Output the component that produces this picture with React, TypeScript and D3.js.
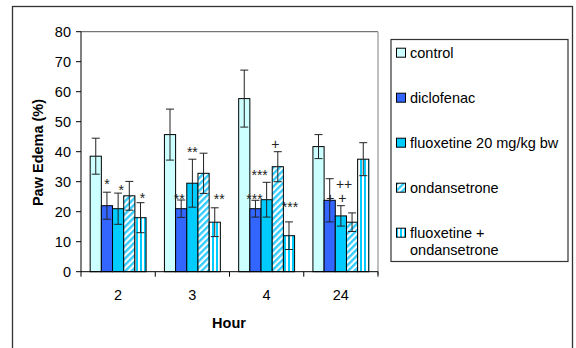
import React from 'react';
import { scaleBand, scaleLinear, range } from 'd3';

// hours after injection
const hours = ['2', '3', '4', '24'];
const seriesNames = ['control', 'diclofenac', 'fluoxetine 20 mg/kg bw', 'ondansetrone', 'fluoxetine + ondansetrone'];

// mean paw edema (%) per hour, and the error (half bar)
const control = [38.5, 45.7, 57.7, 41.7];
const controlErr = [6, 8.5, 9.5, 4];
const diclofenac = [22, 21, 21, 23.8];
const diclofenacErr = [4.5, 2.9, 2.8, 7.2];
const fluoxetine = [21, 29.5, 24, 18.6];
const fluoxetineErr = [5.2, 8, 5.8, 3.4];
const ondansetrone = [25.3, 32.8, 35, 16.5];
const ondansetroneErr = [4.8, 6.7, 5, 3.1];
const combo = [18, 16.5, 12, 37.5];
const comboErr = [5, 4.8, 4.6, 5.5];

const yTicks = [0, 10, 20, 30, 40, 50, 60, 70, 80];

// significance marks: hour, series index, label, level (value units), nudge
const marks = [
  { hour: '2', s: 1, text: '*', at: 30.2, dx: 0 },
  { hour: '2', s: 2, text: '*', at: 28.3, dx: 3 },
  { hour: '2', s: 4, text: '*', at: 25.6, dx: 2 },
  { hour: '3', s: 1, text: '**', at: 25.2, dx: -2 },
  { hour: '3', s: 2, text: '**', at: 41, dx: 0 },
  { hour: '3', s: 4, text: '**', at: 25.3, dx: 4.5 },
  { hour: '4', s: 1, text: '***', at: 25.3, dx: -1 },
  { hour: '4', s: 2, text: '***', at: 33.3, dx: -7 },
  { hour: '4', s: 3, text: '+', at: 42.6, dx: -2.5 },
  { hour: '4', s: 4, text: '***', at: 22.6, dx: 1 },
  { hour: '24', s: 3, text: '++', at: 29.2, dx: -8 },
  { hour: '24', s: 2, text: '+ +', at: 24.5, dx: -4.5 },
];

const values = [control, diclofenac, fluoxetine, ondansetrone, combo];
const errors = [controlErr, diclofenacErr, fluoxetineErr, ondansetroneErr, comboErr];
const fills = ['#CCFFFF', '#3366FF', '#00CCFF', 'url(#diag)', 'url(#vert)'];

const font = '"Liberation Sans", Arial, sans-serif';
const fs = 14.5;

export default function App() {
  const left = 81;
  const right = 378;
  const top = 31.7;
  const bottom = 271.7;

  const x = scaleBand<string>().domain(hours).range([left, right]);
  const xs = scaleBand<number>()
    .domain(range(5))
    .range([0, x.bandwidth()])
    .paddingInner(0)
    .paddingOuter(0.82);
  const y = scaleLinear().domain([0, 80]).range([bottom, top]);
  const w = xs.bandwidth();

  const legendRows = [52.7, 97.7, 142.7, 187.7, 232.7];

  return (
    <div style={{ position: 'absolute', left: 0, top: 0 }}>
      <svg width={576} height={348} style={{ display: 'block', background: '#fff' }}>
        <defs>
          <pattern id="diag" width={4.5} height={4.5} patternUnits="userSpaceOnUse" patternTransform="rotate(45)">
            <rect width={4.5} height={4.5} fill="#fff" />
            <rect width={2.4} height={4.5} fill="#33CCFF" />
          </pattern>
          <pattern id="vert" width={4} height={4} patternUnits="userSpaceOnUse">
            <rect width={4} height={4} fill="#fff" />
            <rect width={2} height={4} fill="#00CCFF" />
          </pattern>
        </defs>

        {/* outer chart frame */}
        <rect x={12.5} y={6.5} width={560} height={400} fill="none" stroke="#333" strokeWidth={1.3} />

        {/* plot frame */}
        <line x1={left} x2={right} y1={top} y2={top} stroke="#555" />
        <line x1={right} x2={right} y1={top} y2={bottom + 3} stroke="#aaa" strokeWidth={1.5} />

        {/* bars */}
        {hours.map((h, i) => (
          <g key={h}>
            {values.map((vals, s) => (
              <rect
                key={s}
                x={(x(h) as number) + (xs(s) as number)}
                y={y(vals[i])}
                width={w}
                height={bottom - y(vals[i])}
                fill={fills[s]}
                stroke="#000"
                strokeWidth={1}
              />
            ))}
          </g>
        ))}

        {/* error bars */}
        {hours.map((h, i) => (
          <g key={'e' + h} stroke="#222" strokeWidth={1}>
            {values.map((vals, s) => {
              const cx = (x(h) as number) + (xs(s) as number) + w / 2;
              const hi = y(vals[i] + errors[s][i]);
              const lo = y(vals[i] - errors[s][i]);
              return (
                <g key={s}>
                  <line x1={cx} x2={cx} y1={hi} y2={lo} />
                  <line x1={cx - 4} x2={cx + 4} y1={hi} y2={hi} />
                  <line x1={cx - 4} x2={cx + 4} y1={lo} y2={lo} />
                </g>
              );
            })}
          </g>
        ))}

        {/* significance marks */}
        {marks.map((m, k) => {
          const cx = (x(m.hour) as number) + (xs(m.s) as number) + w / 2 + m.dx;
          const off = m.text.includes('*') ? 8 : 5;
          return (
            <text key={k} x={cx} y={y(m.at) + off} textAnchor="middle" fontFamily={font} fontSize={14} fill="#222">
              {m.text}
            </text>
          );
        })}

        {/* y axis */}
        <line x1={left} x2={left} y1={top} y2={bottom} stroke="#000" />
        {yTicks.map((t) => (
          <g key={t}>
            <line x1={left - 5} x2={left} y1={y(t)} y2={y(t)} stroke="#000" />
            <text x={left - 10} y={y(t)} dy="0.35em" textAnchor="end" fontFamily={font} fontSize={fs} fill="#000">
              {t}
            </text>
          </g>
        ))}

        {/* x axis */}
        <line x1={left} x2={right} y1={bottom} y2={bottom} stroke="#000" />
        {hours.map((h) => (
          <g key={'t' + h}>
            <line x1={x(h) as number} x2={x(h) as number} y1={bottom} y2={bottom + 5} stroke="#000" />
            <text
              x={(x(h) as number) + x.bandwidth() / 2}
              y={295}
              dy="0.35em"
              textAnchor="middle"
              fontFamily={font}
              fontSize={fs}
              fill="#000"
            >
              {h}
            </text>
          </g>
        ))}
        <line x1={right} x2={right} y1={bottom} y2={bottom + 5} stroke="#000" />

        {/* axis titles */}
        <text x={229} y={322.5} dy="0.35em" textAnchor="middle" fontFamily={font} fontSize={fs} fontWeight="bold">
          Hour
        </text>
        <text
          transform="translate(38,152.5) rotate(-90)"
          dy="0.35em"
          textAnchor="middle"
          fontFamily={font}
          fontSize={fs}
          fontWeight="bold"
        >
          Paw Edema (%)
        </text>

        {/* legend */}
        <rect x={391} y={39.5} width={177} height={222} fill="#fff" stroke="#333" strokeWidth={1.2} />
        {seriesNames.map((name, s) => (
          <g key={name}>
            <rect x={396.5} y={legendRows[s] - 4.5} width={9} height={9} fill={fills[s]} stroke="#000" />
            {s < 4 ? (
              <text x={410} y={legendRows[s]} dy="0.35em" fontFamily={font} fontSize={fs} fill="#000">
                {name}
              </text>
            ) : (
              <text x={410} y={legendRows[s]} dy="0.35em" fontFamily={font} fontSize={fs} fill="#000">
                <tspan x={410}>fluoxetine +</tspan>
                <tspan x={410} dy="17.5">ondansetrone</tspan>
              </text>
            )}
          </g>
        ))}
      </svg>
    </div>
  );
}
